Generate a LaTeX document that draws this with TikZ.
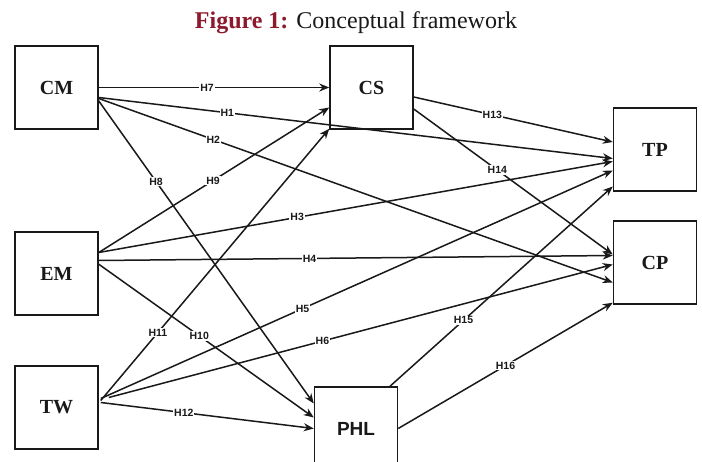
\documentclass[tikz,border=0pt]{standalone}
\usepackage{fontspec}
\setmainfont{Liberation Serif}
\setsansfont{Liberation Sans}
\usetikzlibrary{arrows.meta,calc}
\definecolor{figred}{RGB}{140,26,44}
\definecolor{ink}{RGB}{25,25,25}
\begin{document}
\begin{tikzpicture}[x=1pt,y=-1pt,
 box/.style={draw=ink, line width=1.5pt, minimum size=83pt, inner sep=0pt, text=ink, font=\bfseries\fontsize{20}{20}\selectfont},
 conn/.style={draw=ink, line width=1.5pt, -{Stealth[length=10pt,width=8pt]}},
 lab/.style={fill=white, inner sep=1pt, text=ink, font=\sffamily\bfseries\fontsize{10.5}{10.5}\selectfont}]
\clip (0,0) rectangle (702,462);
\fill[white] (0,0) rectangle (702,462);
\node[font=\fontsize{24}{24}\selectfont, text=ink, anchor=base, inner sep=0pt] (title) at (356,29) {\textcolor{figred}{\textbf{Figure 1:}} Conceptual framework};
\node[box] (CM) at (56.5,87.5) {CM};
\node[box] (CS) at (371.5,87.5) {CS};
\node[box] (TP) at (655,149.5) {TP};
\node[box] (CP) at (655,262.5) {CP};
\node[box] (EM) at (56.5,273.5) {EM};
\node[box] (TW) at (56.5,407.5) {TW};
\node[box, font=\sffamily\bfseries\fontsize{19}{19}\selectfont] (PHL) at (356,428.5) {PHL};
% CM
\draw[conn] (CM.east) -- node[lab,pos=0.47]{H7} (CS.west);
\draw[conn] ($(CM.east)+(0,10)$) -- node[lab,pos=0.25]{H1} ($(TP.west)+(0,9)$);
\draw[conn] ($(CM.east)+(0,11)$) -- node[lab,pos=0.223]{H2} ($(CP.west)+(0,20)$);
\draw[conn] ($(CM.east)+(-1,12)$) -- node[lab,pos=0.27]{H8} ($(PHL.west)+(0,-25)$);
% EM
\draw[conn] ($(EM.east)+(0,-21)$) -- node[lab,pos=0.496]{H9} ($(CS.west)+(0,20)$);
\draw[conn] ($(EM.east)+(0,-21)$) -- node[lab,pos=0.386]{H3} ($(TP.west)+(0,12)$);
\draw[conn] ($(EM.east)+(0,-13)$) -- node[lab,pos=0.41]{H4} ($(CP.west)+(0,-7)$);
\draw[conn] ($(EM.east)+(-1,-10)$) -- node[lab,pos=0.47]{H10} ($(PHL.west)+(0,-11)$);
% TW
\draw[conn] ($(TW.east)+(2,-7)$) -- node[lab,pos=0.25]{H11} ($(CS.south west)+(0,-1)$);
\draw[conn] ($(TW.east)+(2,-9)$) -- node[lab,pos=0.394]{H5} ($(TP.west)+(0,21)$);
\draw[conn] ($(TW.east)+(10,-10)$) -- node[lab,pos=0.424]{H6} ($(CP.west)+(0,2)$);
\draw[conn] ($(TW.east)+(2,-5)$) -- node[lab,pos=0.39]{H12} (PHL.west);
% CS
\draw[conn] ($(CS.east)+(0,9.5)$) -- node[lab,pos=0.395]{H13} ($(TP.west)+(0,-7.5)$);
\draw[conn] ($(CS.east)+(0,21.5)$) -- node[lab,pos=0.42]{H14} ($(CP.west)+(0,-8)$);
% PHL
\draw[conn] ($(PHL.north)+(34,0)$) -- node[lab,pos=0.33]{H15} ($(TP.west)+(0,37)$);
\draw[conn] (PHL.east) -- node[lab,pos=0.5]{H16} ($(CP.south west)+(0,-2)$);
\end{tikzpicture}
\end{document}
